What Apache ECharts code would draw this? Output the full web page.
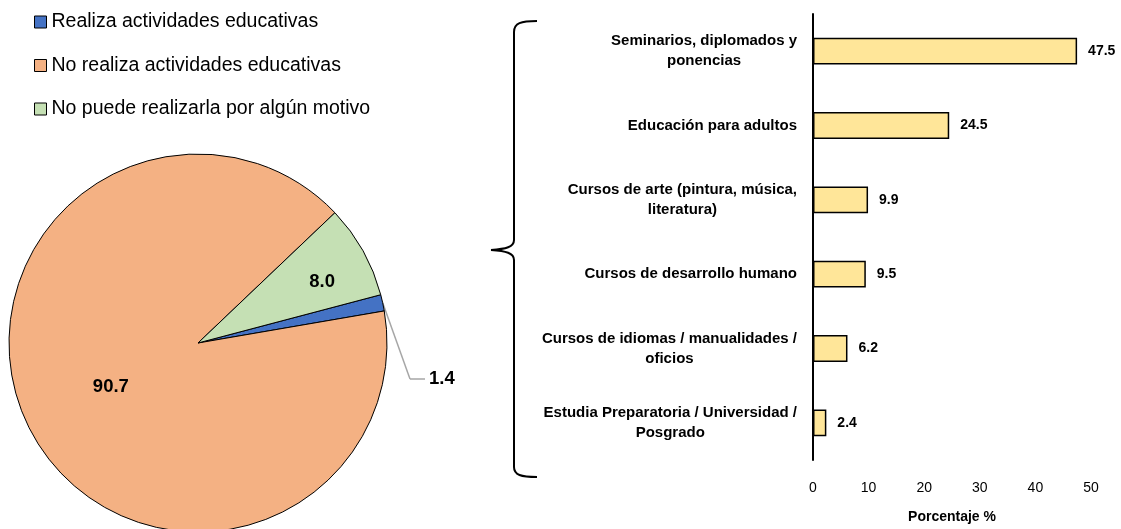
<!DOCTYPE html>
<html>
<head>
<meta charset="utf-8">
<script src="https://cdn.jsdelivr.net/npm/echarts@6/dist/echarts.min.js"></script>
<style>
  html, body { margin: 0; padding: 0; background: #fff; }
  #main { width: 1121px; height: 529px; }
</style>
</head>
<body>
<div id="main"></div>
<script>
// datos del pastel
var pieNames = ['Realiza actividades educativas', 'No realiza actividades educativas', 'No puede realizarla por algún motivo'];
var pieValues = [1.4, 90.7, 8.0];
var pieColors = ['#4472C4', '#F4B183', '#C5E0B4'];

// datos de barras (de arriba hacia abajo)
var barCategories = [
  'Seminarios, diplomados y\nponencias',
  'Educación para adultos',
  'Cursos de arte (pintura, música,\nliteratura)',
  'Cursos de desarrollo humano',
  'Cursos de idiomas / manualidades /\noficios',
  'Estudia Preparatoria / Universidad /\nPosgrado'
];
var barValues = [47.5, 24.5, 9.9, 9.5, 6.2, 2.4];
var xTicks = [0, 10, 20, 30, 40, 50];

var font = '"Liberation Sans", Arial, sans-serif';
var guideColor = '#A6A6A6';

var chart = echarts.init(document.getElementById('main'));

// llave decorativa
var braceStyle = { fill: null, stroke: '#000', lineWidth: 2 };
function curve(x1, y1, c1x, c1y, c2x, c2y, x2, y2) {
  return { type: 'bezierCurve', shape: { x1: x1, y1: y1, cpx1: c1x, cpy1: c1y, cpx2: c2x, cpy2: c2y, x2: x2, y2: y2 }, style: braceStyle };
}
function seg(x1, y1, x2, y2) {
  return { type: 'line', shape: { x1: x1, y1: y1, x2: x2, y2: y2 }, style: braceStyle };
}

var option = {
  backgroundColor: '#fff',
  animation: false,
  textStyle: { fontFamily: font, color: '#000' },
  legend: {
    orient: 'vertical',
    left: 34,
    top: 12,
    padding: 0,
    itemWidth: 12,
    itemHeight: 12,
    itemGap: 23.5,
    icon: 'rect',
    itemStyle: { borderColor: '#000', borderWidth: 1 },
    textStyle: { fontSize: 19.5, color: '#000', fontFamily: font },
    data: pieNames
  },
  grid: {
    left: 813,
    right: 30,
    top: 14,
    height: 450
  },
  xAxis: {
    type: 'value',
    min: xTicks[0],
    max: xTicks[xTicks.length - 1],
    interval: 10,
    splitLine: { show: false },
    axisLine: { show: false },
    axisTick: { show: false },
    axisLabel: { fontSize: 14, color: '#000', margin: 21 },
    name: 'Porcentaje %',
    nameLocation: 'middle',
    nameGap: 50,
    nameTextStyle: { fontSize: 14, fontWeight: 'bold', color: '#000' }
  },
  yAxis: {
    type: 'category',
    inverse: true,
    data: barCategories,
    axisLine: { show: true, lineStyle: { color: '#000', width: 2 } },
    axisTick: { show: false },
    axisLabel: {
      margin: 16,
      align: 'right',
      formatter: function (v) {
        return v.split('\n').map(function (l) { return '{c|' + l + '}'; }).join('\n');
      },
      rich: {
        c: { align: 'center', fontSize: 15, fontWeight: 'bold', color: '#000', lineHeight: 20, fontFamily: font }
      }
    }
  },
  series: [
    {
      name: 'Porcentaje',
      type: 'bar',
      data: barValues,
      barWidth: '36%',
      itemStyle: { color: '#FFE699', borderColor: '#000', borderWidth: 1.5 },
      label: {
        show: true,
        position: 'right',
        distance: 11,
        fontSize: 14,
        fontWeight: 'bold',
        color: '#000',
        formatter: function (p) { return p.value.toFixed(1); }
      }
    },
    {
      name: 'Actividades',
      type: 'pie',
      center: [198, 343],
      radius: 189,
      startAngle: 14.8,
      clockwise: true,
      data: pieNames.map(function (n, i) {
        return { name: n, value: pieValues[i], itemStyle: { color: pieColors[i] } };
      }),
      itemStyle: { borderColor: '#000', borderWidth: 1 },
      label: {
        show: true,
        position: 'inside',
        fontSize: 18.5,
        fontWeight: 'bold',
        color: '#000',
        formatter: function (p) { return p.value.toFixed(1); }
      },
      labelLayout: function (p) {
        if (p.dataIndex === 2) return { dx: 39, dy: -14 };
        if (p.dataIndex === 0) return { x: 410, y: 379, align: 'left', verticalAlign: 'middle' };
        return {};
      },
      emphasis: { disabled: true }
    }
  ],
  graphic: [
    curve(537, 21, 521, 21, 514, 23, 514, 32),
    seg(514, 32, 514, 240),
    curve(514, 240, 514, 247, 506, 249, 491, 250),
    curve(491, 250, 506, 251, 514, 253, 514, 260),
    seg(514, 260, 514, 467),
    curve(514, 467, 514, 475, 521, 477, 537, 477)
  ]
};

// etiqueta externa para la porción pequeña (tramo horizontal de la guía dentro del texto)
option.series[1].data[0].label = {
  position: 'outside',
  formatter: function (p) { return '{ln|}{sp|}{v|' + p.value.toFixed(1) + '}'; },
  rich: {
    ln: { width: 15, height: 1.5, backgroundColor: guideColor },
    sp: { width: 4 },
    v: { fontSize: 18.5, fontWeight: 'bold', color: '#000', lineHeight: 16, fontFamily: font }
  }
};
option.series[1].data[0].labelLine = {
  show: true,
  length: 20,
  length2: 0,
  lineStyle: { color: guideColor, width: 1.5 }
};

chart.setOption(option);
</script>
</body>
</html>
